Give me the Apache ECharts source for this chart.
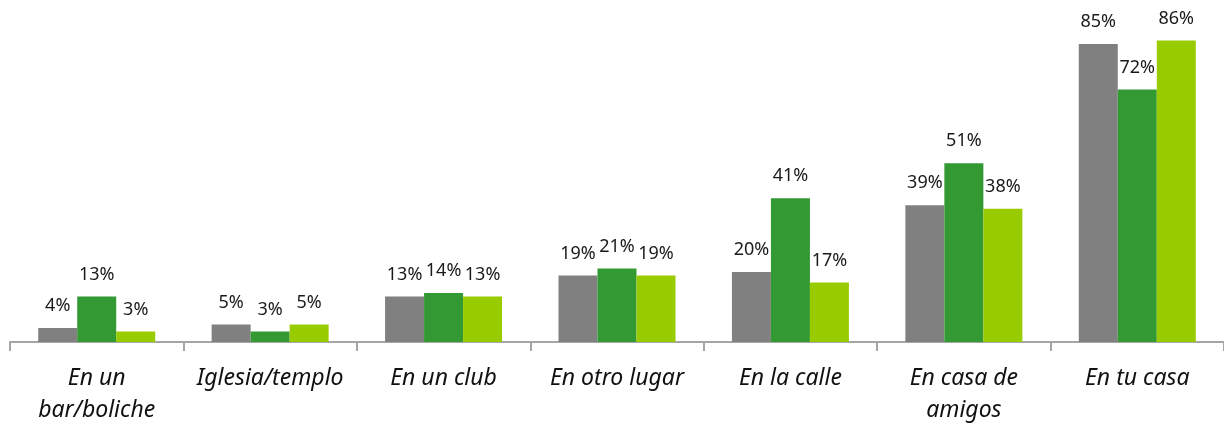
<!DOCTYPE html>
<html>
<head>
<meta charset="utf-8">
<script src="https://cdn.jsdelivr.net/npm/echarts@6/dist/echarts.min.js"></script>
<style>
html,body{margin:0;padding:0;background:#fff;}
#chart{width:1224px;height:426px;}
</style>
</head>
<body>
<div id="chart"></div>
<script>
const categories = ['En un\nbar/boliche', 'Iglesia/templo', 'En un club', 'En otro lugar', 'En la calle', 'En casa de\namigos', 'En tu casa'];
const seriesGray = [4, 5, 13, 19, 20, 39, 85];
const seriesDarkGreen = [13, 3, 14, 21, 41, 51, 72];
const seriesLightGreen = [3, 5, 13, 19, 17, 38, 86];

const font = 'Noto Sans';
const labelCfg = {
  show: true, position: 'top', distance: 13,
  formatter: '{c}%', color: '#1a1a1a', fontFamily: font, fontSize: 18
};
function mk(name, data, color) {
  return {
    name, type: 'bar', data, barWidth: 39, barGap: '0%',
    itemStyle: { color },
    label: labelCfg
  };
}
const chart = echarts.init(document.getElementById('chart'));
chart.setOption({
  animation: false,
  grid: { left: 10, right: -2, top: 9, bottom: 82 },
  xAxis: {
    type: 'category', data: categories,
    axisLine: { lineStyle: { color: '#a6a6a6', width: 2 } },
    axisTick: { show: true, length: 9, lineStyle: { color: '#a6a6a6', width: 2 } },
    axisLabel: {
      fontFamily: font, fontStyle: 'italic', fontSize: 23, color: '#111',
      margin: 20, lineHeight: 32, interval: 0
    }
  },
  yAxis: { type: 'value', min: 0, max: 95, show: false, splitLine: { show: false } },
  series: [
    mk('Gris', seriesGray, '#808080'),
    mk('Verde oscuro', seriesDarkGreen, '#339933'),
    mk('Verde claro', seriesLightGreen, '#99cc00')
  ]
});
</script>
</body>
</html>
